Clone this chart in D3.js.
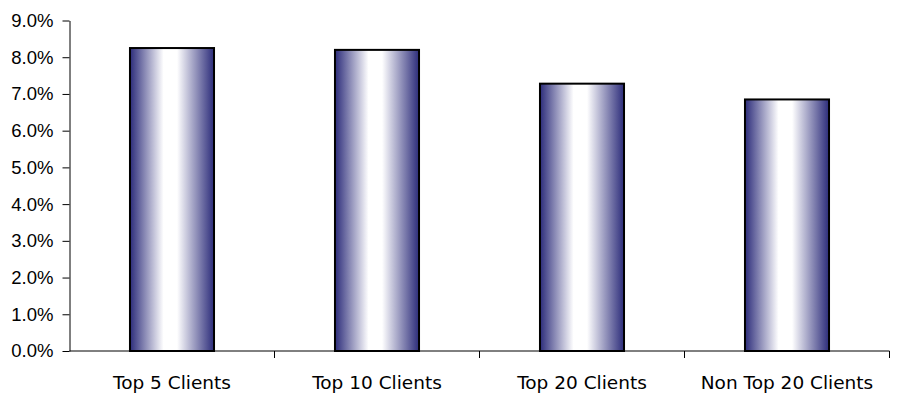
<!DOCTYPE html>
<html>
<head>
<meta charset="utf-8">
<script src="https://cdn.jsdelivr.net/npm/d3@7"></script>
<style>
  html, body { margin: 0; padding: 0; background: #fff; }
  svg { display: block; }
</style>
</head>
<body>
<div id="chart"></div>
<script>
const categories = ["Top 5 Clients", "Top 10 Clients", "Top 20 Clients", "Non Top 20 Clients"];
const values = [0.0825, 0.082, 0.0728, 0.0685];
const yTicks = [0, 0.01, 0.02, 0.03, 0.04, 0.05, 0.06, 0.07, 0.08, 0.09];

const width = 898, height = 399;
const margin = { top: 20.5, right: 8, bottom: 48, left: 69.5 };

const svg = d3.select("#chart")
    .append("svg")
    .attr("width", width)
    .attr("height", height)
    .attr("font-family", "'DejaVu Sans', sans-serif");

// bar fill: navy at edges, white in the middle
const grad = svg.append("defs").append("linearGradient")
    .attr("id", "barGrad")
    .attr("x1", "0%").attr("x2", "100%")
    .attr("y1", "0%").attr("y2", "0%");
grad.append("stop").attr("offset", "0%").attr("stop-color", "#2c2c7a");
grad.append("stop").attr("offset", "40%").attr("stop-color", "#ffffff");
grad.append("stop").attr("offset", "56%").attr("stop-color", "#ffffff");
grad.append("stop").attr("offset", "100%").attr("stop-color", "#2c2c7a");

const xScale = d3.scaleBand()
    .domain(categories)
    .range([margin.left, width - margin.right - 0.5])
    .paddingInner(0.59)
    .paddingOuter(0.295);

const yScale = d3.scaleLinear()
    .domain([0, 0.09])
    .range([height - margin.bottom, margin.top]);

// y axis
const yAxis = svg.append("g")
    .attr("transform", `translate(${margin.left},0)`)
    .call(d3.axisLeft(yScale)
        .tickValues(yTicks)
        .tickFormat(d3.format(".1%"))
        .tickSize(7)
        .tickPadding(9)
        .tickSizeOuter(0));
yAxis.selectAll("text")
    .attr("font-size", 18.5)
    .attr("fill", "#000");
yAxis.selectAll("line, path").attr("stroke", "#000");

// bars
svg.append("g")
    .selectAll("rect")
    .data(values)
    .join("rect")
    .attr("x", (d, i) => xScale(categories[i]))
    .attr("y", d => yScale(d))
    .attr("width", xScale.bandwidth())
    .attr("height", d => yScale(0) - yScale(d))
    .attr("fill", "url(#barGrad)")
    .attr("stroke", "#000")
    .attr("stroke-width", 2);

// x axis, ticks between categories
const xAxisG = svg.append("g")
    .attr("transform", `translate(0,${yScale(0)})`);
xAxisG.append("line")
    .attr("x1", margin.left)
    .attr("x2", width - margin.right - 0.5)
    .attr("stroke", "#000");
const edges = d3.range(categories.length + 1)
    .map(i => margin.left + i * xScale.step());
xAxisG.selectAll("line.tick")
    .data(edges.slice(1))
    .join("line")
    .attr("class", "tick")
    .attr("x1", d => Math.round(d) - 0.5)
    .attr("x2", d => Math.round(d) - 0.5)
    .attr("y1", 0)
    .attr("y2", 7)
    .attr("stroke", "#000");
xAxisG.selectAll("text")
    .data(categories)
    .join("text")
    .attr("x", d => xScale(d) + xScale.bandwidth() / 2)
    .attr("y", 38)
    .attr("text-anchor", "middle")
    .attr("font-size", 18.5)
    .attr("fill", "#000")
    .text(d => d);
</script>
</body>
</html>
